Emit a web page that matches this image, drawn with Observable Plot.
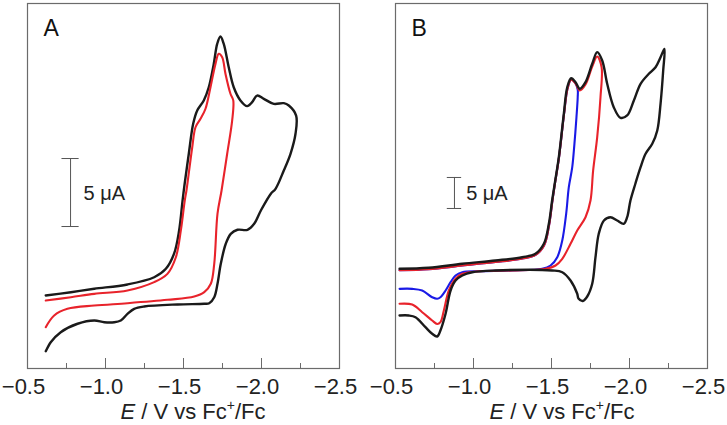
<!DOCTYPE html>
<html>
<head>
<meta charset="utf-8">
<script src="https://cdn.jsdelivr.net/npm/d3@7"></script>
<script src="https://cdn.jsdelivr.net/npm/@observablehq/plot@0.6"></script>
<style>
  html, body { margin: 0; padding: 0; background: #fff; }
  #wrap { display: flex; width: 727px; height: 425px; }
  svg { overflow: visible; }
</style>
</head>
<body>
<div id="wrap"></div>
<script>
// ---------- Data (E in V vs Fc+/Fc, I in µA, arbitrary zero) ----------
const xTicks = [-0.5, -1.0, -1.5, -2.0, -2.5];
const xMinorTicks = [-0.75, -1.25, -1.75, -2.25];

// Panel A, black trace
const aBlackE = [-0.617,-0.778,-0.928,-1.141,-1.312,-1.387,-1.440,-1.472,-1.494,-1.506,-1.534,-1.562,-1.588,-1.630,-1.662,-1.694,-1.716,-1.737,-1.758,-1.790,-1.822,-1.865,-1.908,-1.940,-1.972,-2.015,-2.079,-2.143,-2.175,-2.222,
  -2.218,-2.186,-2.143,-2.090,-2.060,-1.996,-1.953,-1.910,-1.846,-1.803,-1.771,-1.739,-1.718,-1.697,-1.665,-1.633,-1.462,-1.248,-1.184,-1.141,-1.098,-1.056,-0.992,-0.928,-0.821,-0.713,-0.649,-0.617];
const aBlackI = [5.37,5.61,5.86,6.18,6.71,7.33,8.46,10.15,12.35,13.46,15.79,17.99,18.97,19.71,20.68,22.40,23.87,24.41,23.87,22.15,20.68,19.71,19.29,19.58,20.07,19.83,19.46,19.51,19.34,18.60,
  17.26,15.79,14.56,13.21,12.85,11.62,10.64,10.20,10.20,9.90,9.17,7.70,6.23,5.24,4.80,4.76,4.71,4.56,4.39,4.02,3.53,3.40,3.40,3.53,3.29,2.67,1.93,1.27];

// Panel A, red trace
const aRedE = [-0.617,-0.778,-0.928,-1.141,-1.312,-1.397,-1.451,-1.483,-1.508,-1.519,-1.556,-1.577,-1.609,-1.641,-1.673,-1.705,-1.726,-1.748,-1.769,-1.801,-1.819,
  -1.812,-1.780,-1.744,-1.718,-1.697,-1.675,-1.633,-1.569,-1.397,-1.141,-0.928,-0.756,-0.671,-0.617];
const aRedI = [5.00,5.24,5.49,5.74,6.35,6.96,8.18,10.15,12.35,13.09,16.27,17.74,18.36,19.10,20.68,22.40,23.14,22.89,21.67,20.20,19.71,
  18.24,15.79,13.09,11.38,7.70,6.23,5.61,5.29,5.05,4.80,4.63,4.39,3.90,3.04];

// Panel B, black trace
const bBlackE = [-0.526,-0.713,-0.928,-1.141,-1.312,-1.397,-1.451,-1.483,-1.504,-1.521,-1.547,-1.579,-1.601,-1.626,-1.654,-1.681,-1.718,-1.761,-1.793,-1.825,-1.857,-1.899,-1.942,-1.985,-2.028,-2.071,-2.124,-2.167,-2.199,-2.224,
  -2.216,-2.199,-2.178,-2.146,-2.103,-2.071,-2.038,-2.006,-1.985,-1.963,-1.921,-1.878,-1.836,-1.803,-1.782,-1.761,-1.729,-1.701,-1.673,-1.665,-1.622,-1.569,-1.504,-1.141,-0.992,-0.928,-0.885,-0.853,-0.821,-0.788,-0.767,-0.735,-0.692,-0.628,-0.585,-0.526];
const bBlackI = [16.08,16.24,16.89,17.42,17.95,18.50,20.11,23.34,27.10,29.84,34.08,41.08,45.37,46.82,46.18,45.11,46.18,49.15,51.02,49.68,45.92,42.15,40.44,40.81,43.23,45.92,47.53,48.60,50.21,51.56,
  48.06,42.69,38.39,36.24,34.63,32.47,29.84,27.10,24.40,23.34,23.87,24.40,23.87,21.73,17.95,13.66,11.61,10.89,11.29,12.05,14.19,15.53,15.81,15.81,15.53,15.00,14.19,12.58,8.82,6.13,5.16,5.60,6.66,8.27,8.55,8.55];

// Panel B, red trace
const bRedE = [-0.526,-0.712,-0.929,-1.141,-1.314,-1.397,-1.452,-1.484,-1.506,-1.522,-1.548,-1.580,-1.603,-1.626,-1.654,-1.681,-1.718,-1.761,-1.793,-1.821,
  -1.814,-1.793,-1.767,-1.750,-1.718,-1.665,-1.622,-1.569,-1.526,-1.462,-1.248,-1.034,-0.928,-0.885,-0.842,-0.810,-0.788,-0.767,-0.735,-0.671,-0.607,-0.526];
const bRedI = [15.85,16.02,16.61,17.18,17.74,18.31,19.84,23.06,27.10,29.84,34.03,40.97,45.16,46.56,45.97,44.84,45.81,48.71,50.32,48.60,
  43.76,37.31,31.94,27.10,24.40,22.26,20.11,17.69,16.61,16.08,15.81,15.69,15.27,14.47,12.58,9.35,7.47,7.18,7.74,9.08,10.32,10.44];

// Panel B, blue trace
const bBlueE = [-0.526,-0.712,-0.929,-1.141,-1.314,-1.397,-1.452,-1.484,-1.506,-1.522,-1.548,-1.580,-1.603,-1.626,-1.654,-1.668,
  -1.668,-1.660,-1.647,-1.633,-1.611,-1.594,-1.569,-1.537,-1.494,-1.440,-1.248,-1.034,-0.928,-0.885,-0.853,-0.821,-0.788,-0.767,-0.735,-0.671,-0.607,-0.526];
const bBlueI = [15.85,16.02,16.61,17.18,17.74,18.31,19.84,23.06,27.10,29.84,34.03,40.97,45.16,46.56,45.97,45.00,
  43.76,40.53,36.24,32.47,29.24,24.95,20.65,17.95,16.61,16.08,15.81,15.69,15.53,15.00,13.92,12.58,11.50,11.24,11.50,12.58,12.85,12.85];

// Panel labels and scale bars
const panelNames = ["A", "B"];
const scaleBarLabel = "5 \u03bcA";
const scaleBarA = {E: -0.776, I0: 10.44, I1: 15.44, textE: -0.859, textI: 12.87};
const scaleBarB = {E: -0.878, I0: 25.81, I1: 30.81, textE: -0.953, textI: 28.23};

// ---------- Drawing ----------
const FONT = "'Liberation Sans', Arial, Helvetica, sans-serif";
const BLACK = "#1a1a1a", RED = "#e8232b", BLUE = "#1a1ae6", GRAY = "#6b6b6b";
const H = 425, TOP = 3, BOTTOM = 57;
const innerH = H - TOP - BOTTOM;

const series = (E, I) => E.map((e, i) => ({E: e, I: I[i]}));
const fmt = d => d.toFixed(1).replace("-", "\u2212");

function panel({width, ml, mr, yMax, traces, name, bar, capHalf, labelX}) {
  const marks = [];
  for (const t of traces) {
    marks.push(Plot.line(series(t.E, t.I), {x: "E", y: "I", stroke: t.color, strokeWidth: t.w, curve: "catmull-rom", strokeLinejoin: "round"}));
  }
  // scale bar (I-beam)
  marks.push(Plot.ruleX([bar], {x: "E", y1: "I0", y2: "I1", stroke: "#555", strokeWidth: 1}));
  marks.push(Plot.ruleY([bar.I0, bar.I1], {y: d => d, x1: bar.E - capHalf, x2: bar.E + capHalf, stroke: "#555", strokeWidth: 1}));
  marks.push(Plot.text([scaleBarLabel], {x: bar.textE, y: bar.textI, text: d => d, textAnchor: "start", fontSize: 20, fill: "#222"}));
  // panel letter
  marks.push(Plot.text([name], {frameAnchor: "top-left", text: d => d, dx: 16, dy: 16, lineAnchor: "top", textAnchor: "start", fontSize: 23, fill: "#111"}));
  // inward ticks
  marks.push(Plot.ruleX(xTicks, {x: d => d, insetTop: innerH - 10, stroke: GRAY, strokeWidth: 1}));
  marks.push(Plot.ruleX(xMinorTicks, {x: d => d, insetTop: innerH - 5, stroke: GRAY, strokeWidth: 1}));
  marks.push(Plot.frame({stroke: GRAY, strokeWidth: 1.2}));
  marks.push(Plot.axisX(xTicks, {tickSize: 0, tickPadding: 10, tickFormat: fmt, fontSize: 22, dx: -4, fill: "#222", label: null}));

  const svg = Plot.plot({
    width, height: H,
    marginLeft: ml, marginRight: mr, marginTop: TOP, marginBottom: BOTTOM,
    style: {fontFamily: FONT, fontSize: "22px", background: "white", overflow: "visible"},
    x: {domain: [-0.5, -2.5]},
    y: {domain: [0, yMax], axis: null},
    marks
  });
  const lab = d3.select(svg).append("text")
    .attr("x", labelX).attr("y", 419)
    .attr("text-anchor", "middle")
    .attr("font-family", FONT).attr("font-size", 22).attr("fill", "#222");
  lab.append("tspan").attr("font-style", "italic").text("E");
  lab.append("tspan").text(" / V vs Fc");
  lab.append("tspan").attr("font-size", 14).attr("dy", -9).text("+");
  lab.append("tspan").attr("dy", 9).text("/Fc");
  return svg;
}

const wrap = document.getElementById("wrap");
wrap.appendChild(panel({
  width: 364, ml: 27, mr: 25, yMax: innerH / 13.6,
  traces: [
    {E: aBlackE, I: aBlackI, color: BLACK, w: 2.4},
    {E: aRedE, I: aRedI, color: RED, w: 2.1}
  ],
  name: panelNames[0], bar: scaleBarA, capHalf: 0.055, labelX: 193
}));
wrap.appendChild(panel({
  width: 363, ml: 31, mr: 20, yMax: innerH / 6.2,
  traces: [
    {E: bBlueE, I: bBlueI, color: BLUE, w: 2.1},
    {E: bRedE, I: bRedI, color: RED, w: 2.1},
    {E: bBlackE, I: bBlackI, color: BLACK, w: 2.4}
  ],
  name: panelNames[1], bar: scaleBarB, capHalf: 0.046, labelX: 198
}));
</script>
</body>
</html>
